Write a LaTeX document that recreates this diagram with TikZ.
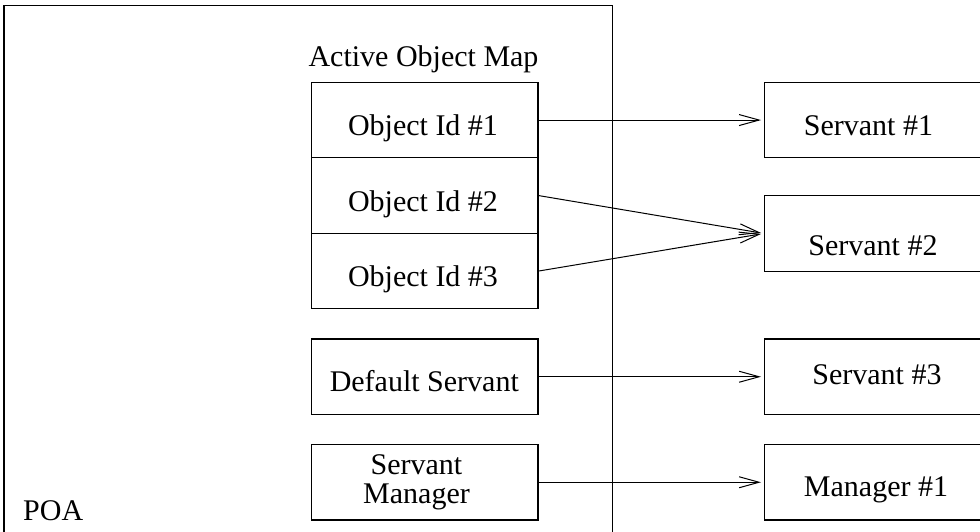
\documentclass[tikz,border=0pt]{standalone}
\usepackage{fontspec}
\setmainfont{Liberation Serif}
\usetikzlibrary{arrows.meta}
\begin{document}
\begin{tikzpicture}[x=1pt,y=-1pt,
  box/.style={draw, line width=1.2pt, minimum width=226.6pt, minimum height=75.5pt,
              inner sep=0pt, anchor=north west},
  lbl/.style={font=\fontsize{30}{28.3}\selectfont, inner sep=0pt},
  link/.style={line width=1pt, -{Straight Barb[length=20pt,width=11pt,line width=1pt]},
               shorten >=3pt}]
\useasboundingbox (0,0) rectangle (980,531);

% POA frame, running off the bottom of the page
\draw[line width=1.3pt] (4,540) -- (4,5.5) -- (612.7,5.5) -- (612.7,540);
\node[lbl, anchor=base west] (poa) at (23,520) {POA};

% active object map
\node[lbl, anchor=base] (aom) at (423.5,66.7) {Active Object Map};
\node[box] (oid1) at (310.7,81.7) {};
\node[box] (oid2) at (310.7,157.2) {};
\node[box] (oid3) at (310.7,232.7) {};
\node[lbl, anchor=base] (oid1t) at (423,135.5) {Object Id \#1};
\node[lbl, anchor=base] (oid2t) at (423,211) {Object Id \#2};
\node[lbl, anchor=base] (oid3t) at (423,286) {Object Id \#3};

% default servant and servant manager
\node[box, minimum height=75.7pt] (dflt) at (310.7,338.3) {};
\node[lbl, anchor=base] (dfltt) at (424.3,391.7) {Default Servant};
\node[box, minimum height=75.3pt] (mgr) at (310.7,444) {};
\node[lbl, align=center] (mgrt) at (416.5,482.4) {Servant\\Manager};

% servants outside the POA
\node[box, minimum width=226pt] (sv1) at (764,81.7) {};
\node[box, minimum width=226pt, minimum height=75.7pt] (sv2) at (764,195) {};
\node[box, minimum width=226pt, minimum height=75.7pt] (sv3) at (764,338.3) {};
\node[box, minimum width=226pt, minimum height=75.3pt] (mg1) at (764,444) {};
\node[lbl, anchor=base] (sv1t) at (868.5,135) {Servant \#1};
\node[lbl, anchor=base] (sv2t) at (873,255) {Servant \#2};
\node[lbl, anchor=base] (sv3t) at (877,384) {Servant \#3};
\node[lbl, anchor=base] (mg1t) at (876,496.7) {Manager \#1};

% associations
\draw[link] (oid1.east) -- (sv1.west);
\draw[link] (oid2.east) -- (sv2.west);
\draw[link] (oid3.east) -- (sv2.west);
\draw[link] (dflt.east) -- (sv3.west);
\draw[link] (mgr.east) -- (mg1.west);
\end{tikzpicture}
\end{document}
